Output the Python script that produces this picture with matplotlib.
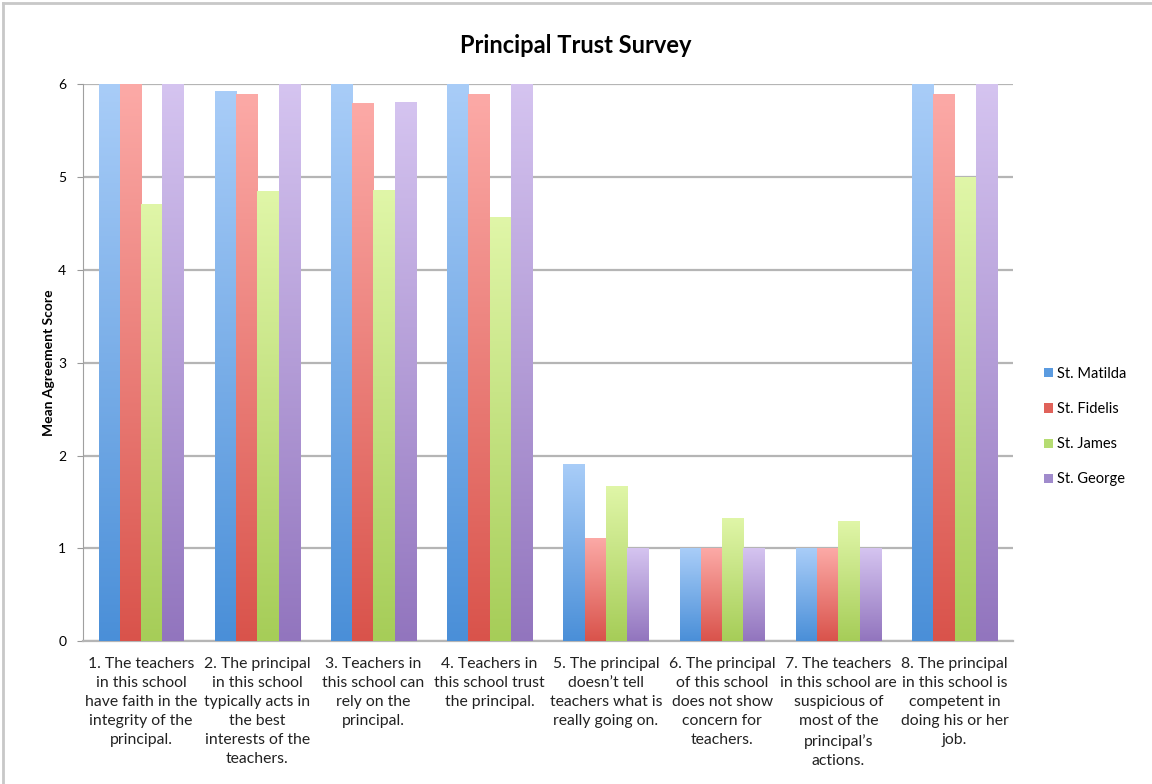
import matplotlib.pyplot as plt
import numpy as np
from matplotlib.colors import LinearSegmentedColormap

plt.rcParams['font.family'] = ['Lato', 'DejaVu Sans']

questions = [
    "1. The teachers\nin this school\nhave faith in the\nintegrity of the\nprincipal.",
    "2. The principal\nin this school\ntypically acts in\nthe best\ninterests of the\nteachers.",
    "3. Teachers in\nthis school can\nrely on the\nprincipal.",
    "4. Teachers in\nthis school trust\nthe principal.",
    "5. The principal\ndoesn\u2019t tell\nteachers what is\nreally going on.",
    "6. The principal\nof this school\ndoes not show\nconcern for\nteachers.",
    "7. The teachers\nin this school are\nsuspicious of\nmost of the\nprincipal\u2019s\nactions.",
    "8. The principal\nin this school is\ncompetent in\ndoing his or her\njob.",
]
schools = ['St. Matilda', 'St. Fidelis', 'St. James', 'St. George']
matilda = [6.0, 5.92, 6.0, 6.0, 1.91, 1.0, 1.0, 6.0]
fidelis = [6.0, 5.89, 5.79, 5.89, 1.11, 1.0, 1.0, 5.89]
james = [4.71, 4.85, 4.86, 4.57, 1.67, 1.33, 1.29, 5.0]
george = [6.0, 6.0, 5.81, 6.0, 1.0, 1.0, 1.0, 6.0]

# (top colour, bottom colour) for the gradient fill
colours = [('#a9cdf8', '#4a8fd8'),
           ('#fcaaa7', '#d9534b'),
           ('#e0f6a8', '#a6cd58'),
           ('#d5c4f0', '#9275be')]
legend_col = ['#5b9be0', '#e0625a', '#b5dc72', '#a08bcc']

fig = plt.figure(figsize=(11.52, 7.84), dpi=100)
ax = fig.add_axes([0.072, 0.182, 0.807, 0.711])

x = np.arange(len(questions))
width = 0.183
grad = np.linspace(0, 1, 256).reshape(-1, 1)
for i, vals in enumerate([matilda, fidelis, james, george]):
    cmap = LinearSegmentedColormap.from_list('g%d' % i, [colours[i][1], colours[i][0]])
    offs = (i - 1.5) * width
    bars = ax.bar(x + offs, vals, width, color='none', edgecolor='none', zorder=3)
    for b in bars:
        x0, w, h = b.get_x(), b.get_width(), b.get_height()
        im = ax.imshow(grad, extent=[x0, x0 + w, 0, h], origin='lower',
                       cmap=cmap, aspect='auto', zorder=3)
        im.set_clip_path(b)
    ax.bar([0], [0], color=legend_col[i], label=schools[i])

ax.set_xlim(-0.5, len(questions) - 0.5)
ax.set_ylim(0, 6)
ax.set_yticks(range(7))
ax.set_xticks(x)
ax.set_xticklabels(questions, fontsize=11.3, linespacing=1.47, color='#222222')
ax.tick_params(axis='x', length=0, pad=11)
ax.tick_params(axis='y', length=4, color='#999999', labelsize=10, pad=8)
ax.grid(axis='y', color='#b5b5b5', linewidth=1.6, zorder=0)
ax.set_axisbelow(True)
for s in ['top', 'right']:
    ax.spines[s].set_visible(False)
ax.spines['left'].set_color('#a0a0a0')
ax.spines['bottom'].set_color('#b5b5b5')
ax.spines['bottom'].set_linewidth(1.6)

ax.set_ylabel('Mean Agreement Score', fontsize=10, fontweight='bold', labelpad=2)
fig.text(0.5, 0.942, 'Principal Trust Survey', ha='center', va='center',
         fontsize=17, fontweight='bold')

leg = ax.legend(loc='center left', bbox_to_anchor=(1.02, 0.385), frameon=False,
                fontsize=10.5, handlelength=0.6, handleheight=0.6,
                handletextpad=0.3, labelspacing=1.45)

# frame around chart
fig.add_artist(plt.Line2D([0.003, 1], [0.996, 0.996], color='#c8c8c8', lw=2))
fig.add_artist(plt.Line2D([0.003, 0.003], [0, 0.996], color='#c8c8c8', lw=2))

fig.savefig('out.png', dpi=100)
